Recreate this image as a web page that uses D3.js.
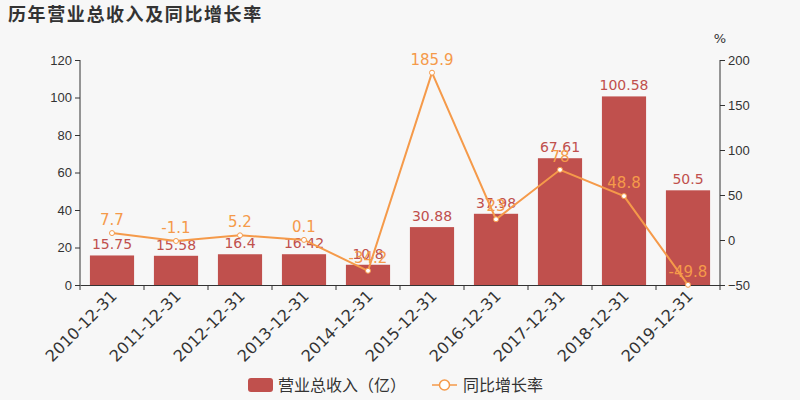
<!DOCTYPE html>
<html><head><meta charset="utf-8">
<script src="https://cdn.jsdelivr.net/npm/d3@7/dist/d3.min.js"></script>
<style>body{margin:0;background:#f7f7f7;}svg{display:block;font-family:"DejaVu Sans","Noto Sans CJK SC",sans-serif;}</style>
</head><body><svg id="c" width="800" height="400"></svg>
<script>
const categories = ["2010-12-31","2011-12-31","2012-12-31","2013-12-31","2014-12-31","2015-12-31","2016-12-31","2017-12-31","2018-12-31","2019-12-31"];
const revenue = [15.75,15.58,16.4,16.42,10.8,30.88,37.98,67.61,100.58,50.5];
const growth = [7.7,-1.1,5.2,0.1,-34.2,185.9,23.0,78,48.8,-49.8];
const leftTicks = [0,20,40,60,80,100,120];
const rightTicks = [-50,0,50,100,150,200];
const title = "历年营业总收入及同比增长率";
const legendNames = ["营业总收入（亿）","同比增长率"];

const barColor = "#c0504d", lineColor = "#f59a4a", textColor = "#333";
const svg = d3.select("#c");
svg.append("rect").attr("width",800).attr("height",400).attr("fill","#f7f7f7");
const L=80,R=720,T=60,B=285;
const x = d3.scaleBand().domain(categories).range([L,R]).paddingInner(0.31).paddingOuter(0.155);
const xb = d3.scaleBand().domain(categories).range([L,R]);
const yL = d3.scaleLinear().domain([0,120]).range([B,T]);
const yR = d3.scaleLinear().domain([-50,200]).range([B,T]);

svg.append("text").attr("x",8).attr("y",21).attr("font-size",18).attr("letter-spacing",1.6).attr("font-weight","bold").attr("fill",textColor).text(title);

// axes
const axL = svg.append("g").attr("transform",`translate(${L},0)`).call(d3.axisLeft(yL).tickValues(leftTicks).tickSize(5).tickPadding(3));
const axR = svg.append("g").attr("transform",`translate(${R},0)`).call(d3.axisRight(yR).tickValues(rightTicks).tickSize(5).tickPadding(3));
[axL,axR].forEach(a=>{a.selectAll("text").attr("font-size",13).attr("fill",textColor);a.selectAll("line,path").attr("stroke",textColor);a.select(".domain").attr("d",`M0,${T}V${B}`);});
svg.append("text").attr("x",720).attr("y",43).attr("text-anchor","middle").attr("font-size",13).attr("fill",textColor).text("%");

// bars
svg.append("g").selectAll("rect").data(revenue).join("rect")
  .attr("x",(d,i)=>x(categories[i])).attr("width",x.bandwidth())
  .attr("y",d=>yL(d)).attr("height",d=>B-yL(d)).attr("fill",barColor);

// x axis
const axX = svg.append("g").attr("transform",`translate(0,${B})`).call(d3.axisBottom(xb).tickSize(5).tickSizeOuter(0).tickFormat(()=>"" ));
axX.selectAll("line,path").attr("stroke",textColor);
axX.selectAll(".tick line").attr("transform",`translate(${-xb.bandwidth()/2},0)`);
axX.append("line").attr("x1",R).attr("x2",R).attr("y1",0).attr("y2",5).attr("stroke",textColor);
svg.append("g").selectAll("text").data(categories).join("text")
  .attr("transform",d=>`translate(${xb(d)+xb.bandwidth()/2+6},${B+12}) rotate(-45)`)
  .attr("text-anchor","end").attr("font-size",16).attr("fill",textColor).text(d=>d);

// bar labels
svg.append("g").selectAll("text").data(revenue).join("text")
  .attr("x",(d,i)=>x(categories[i])+x.bandwidth()/2).attr("y",d=>yL(d)-6)
  .attr("text-anchor","middle").attr("font-size",14).attr("fill",barColor).text(d=>d);

// line
const cx = i=>xb(categories[i])+xb.bandwidth()/2;
svg.append("path").datum(growth).attr("fill","none").attr("stroke",lineColor).attr("stroke-width",2)
  .attr("d",d3.line().x((d,i)=>cx(i)).y(d=>yR(d)));
svg.append("g").selectAll("circle").data(growth).join("circle")
  .attr("cx",(d,i)=>cx(i)).attr("cy",d=>yR(d)).attr("r",2.5).attr("fill","#fff").attr("stroke",lineColor).attr("stroke-width",1);
svg.append("g").selectAll("text").data(growth).join("text")
  .attr("x",(d,i)=>cx(i)).attr("y",d=>yR(d)-8)
  .attr("text-anchor","middle").attr("font-size",15).attr("fill",lineColor).text(d=>d);

// legend
const lg = svg.append("g");
lg.append("rect").attr("x",248).attr("y",378).attr("width",25).attr("height",14).attr("rx",3).attr("fill",barColor);
lg.append("text").attr("x",278).attr("y",391).attr("font-size",16).attr("fill",textColor).text(legendNames[0]);
lg.append("line").attr("x1",432).attr("x2",457).attr("y1",385).attr("y2",385).attr("stroke",lineColor).attr("stroke-width",1.5);
lg.append("circle").attr("cx",444.5).attr("cy",385).attr("r",5).attr("fill","#fff").attr("stroke",lineColor).attr("stroke-width",1.5);
lg.append("text").attr("x",463).attr("y",391).attr("font-size",16).attr("fill",textColor).text(legendNames[1]);
</script></body></html>
